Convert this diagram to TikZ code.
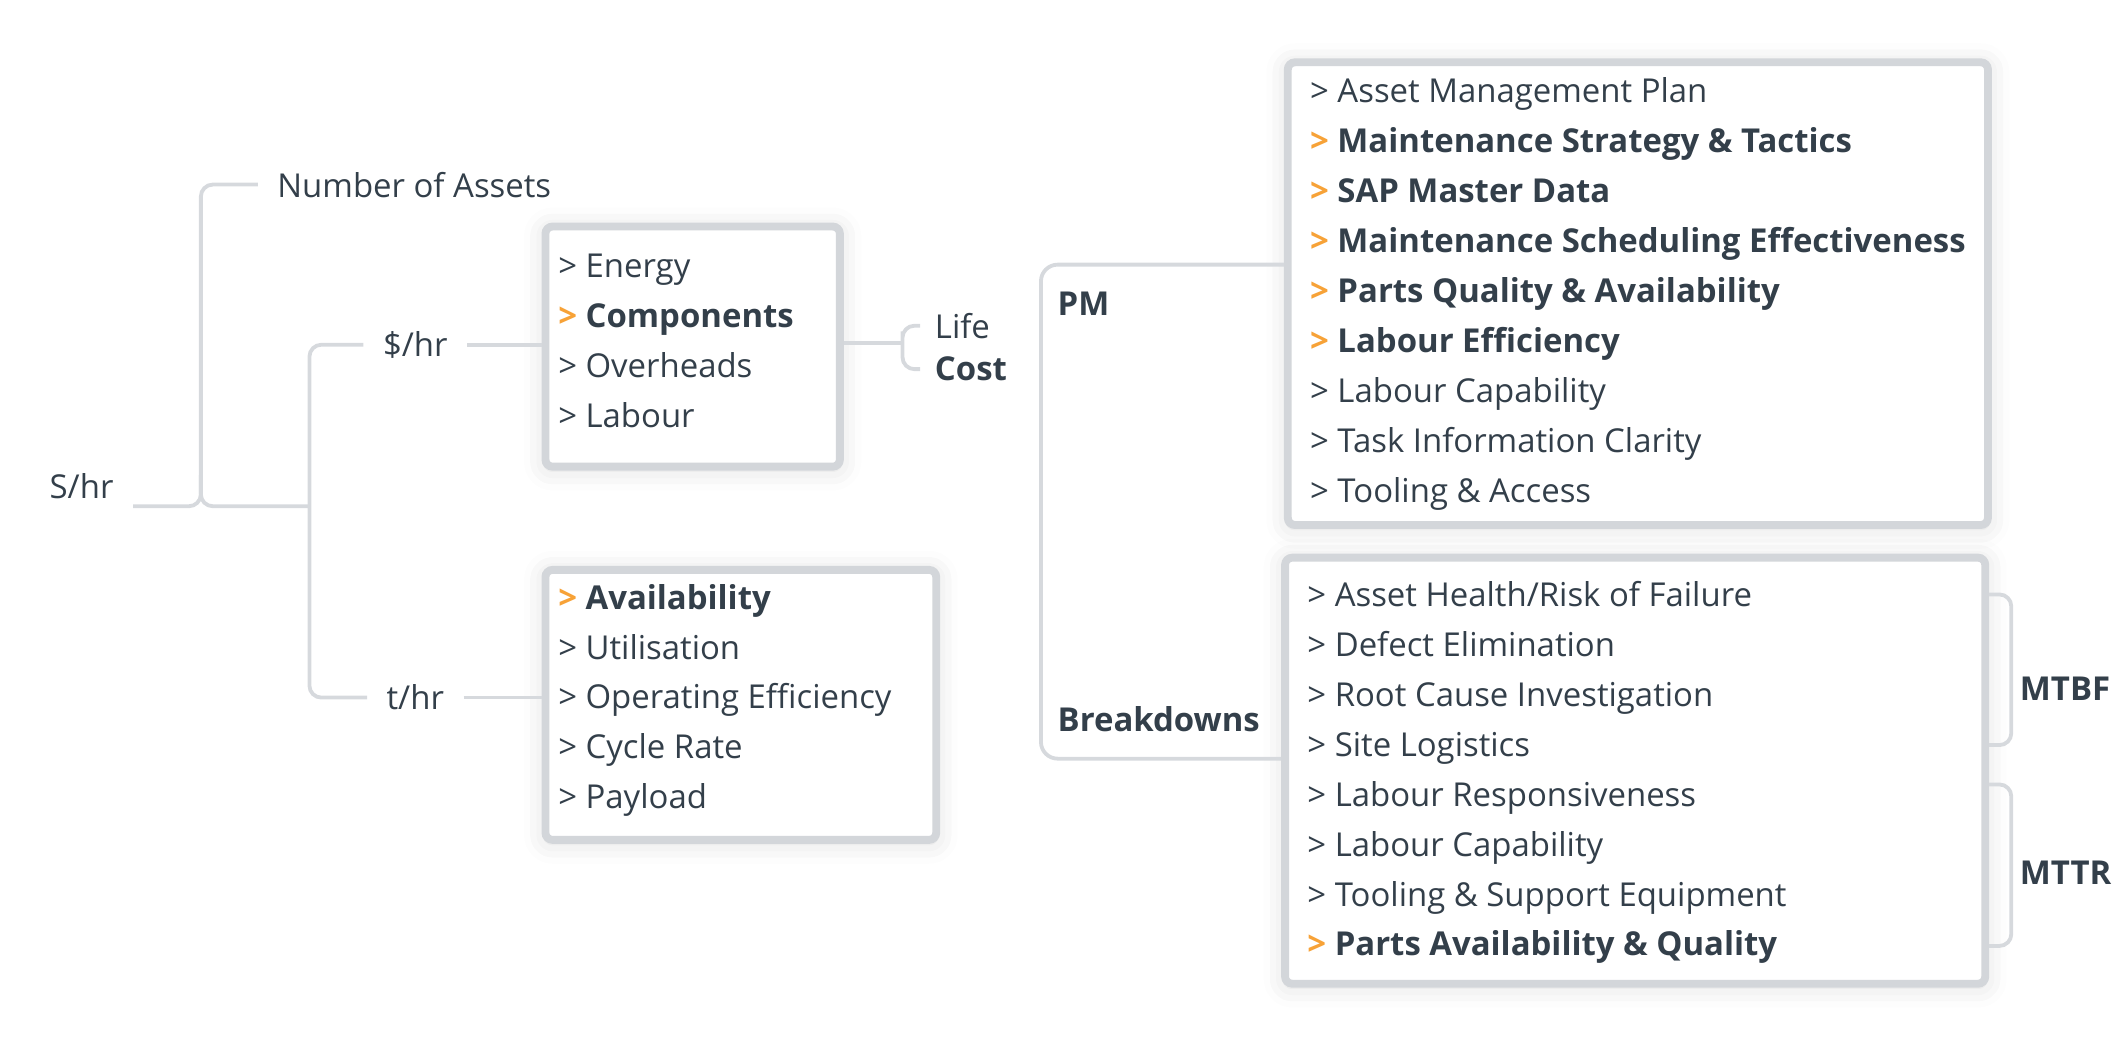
\documentclass[tikz,border=0pt]{standalone}
\usepackage{fontspec}
\setmainfont{Open Sans}
\usetikzlibrary{shadows.blur}

\definecolor{ink}{HTML}{333F4A}
\definecolor{accent}{HTML}{F7A237}
\definecolor{wire}{HTML}{D6D9DD}
\definecolor{frame}{HTML}{D3D6DA}

\newcommand{\keyitem}[1]{\textbf{\textcolor{accent}{>}\ #1}}

\tikzset{
  conn/.style={draw=wire, line width=1.6pt, rounded corners=5pt},
  listbox/.style={draw=frame, line width=3.3pt, rounded corners=3pt, fill=white,
    anchor=north west, inner sep=0pt,
    blur shadow={shadow xshift=0pt, shadow yshift=-1pt, shadow blur radius=9pt, shadow opacity=14}},
  item/.style={anchor=west, inner sep=0pt, text height=12pt, text depth=2pt,
    text=ink, font=\fontsize{13.8}{16}\selectfont},
  lbl/.style={inner xsep=8pt, inner ysep=3pt, text=ink, font=\fontsize{13.8}{16}\selectfont},
}

\begin{document}
\begin{tikzpicture}[x=0.02cm, y=-0.02cm]
    \useasboundingbox (0,0) rectangle (1568,768);

    % Define the row spacing
    \pgfmathsetmacro{\rowgap}{36.8}

    % Draw the boxes
    \node[listbox, minimum width=4.34cm, minimum height=3.54cm] (costbox) at (399,164) {};
    \node[listbox, minimum width=5.76cm, minimum height=3.98cm] (ratebox) at (399,417) {};
    \node[listbox, minimum width=10.32cm, minimum height=6.82cm] (pmbox) at (946,43) {};
    \node[listbox, minimum width=10.32cm, minimum height=6.28cm] (bdbox) at (944,408) {};

    % Add the left labels
    \node[lbl, anchor=south east] (shr) at (98,373) {S/hr};
    \node[lbl, anchor=west] (assets) at (190,136) {Number of Assets};
    \node[lbl] (dollar) at (306,254) {\$/hr};
    \node[lbl] (thr) at (306,514) {t/hr};
    \coordinate (b1) at (148,373);
    \coordinate (b1top) at (148,350);
    \coordinate (b2) at (228,373);

    % Draw the left tree
    \draw[conn] (shr.south east) -- (b1) |- (assets.west);
    \draw[conn] (b2) -| (b1top);
    \draw[conn] (dollar.west) -| (b2) |- (thr.west);
    \draw[conn] (dollar.east) -- (costbox.west |- dollar);
    \draw[conn] (thr.east) -- (ratebox.west |- thr);

    % Add the cost items
    \node[item] (energy) at (411,196) {> Energy};
    \node[item] (components) at (411,196+\rowgap) {\keyitem{Components}};
    \node[item] (overheads) at (411,196+2*\rowgap) {> Overheads};
    \node[item] (labour) at (411,196+3*\rowgap) {> Labour};

    % Add the rate items
    \node[item] (availability) at (411,440) {\keyitem{Availability}};
    \node[item] (utilisation) at (411,440+\rowgap) {> Utilisation};
    \node[item] (opeff) at (411,440+2*\rowgap) {> Operating Efficiency};
    \node[item] (cycle) at (411,440+3*\rowgap) {> Cycle Rate};
    \node[item] (payload) at (411,440+4*\rowgap) {> Payload};

    % Life cost brace
    \node[lbl, anchor=west, inner xsep=6pt] (life) at (678,240) {Life};
    \node[lbl, anchor=west, inner xsep=6pt] (cost) at (678,272) {\textbf{Cost}};
    \coordinate (lcjoin) at (665,253);
    \draw[conn] (life.west) -| (lcjoin) |- (cost.west);
    \draw[conn] (costbox.east |- lcjoin) -- (lcjoin);

    % PM / Breakdowns bracket
    \coordinate (pmtop) at (767,195);
    \coordinate (bdbot) at (767,559);
    \draw[conn, rounded corners=7pt] (pmbox.west |- pmtop) -- (pmtop) -- (bdbot) -- (bdbox.west |- bdbot);
    \node[item] (pm) at (779,224) {\textbf{PM}};
    \node[item] (breakdowns) at (779,530) {\textbf{Breakdowns}};

    % Add the PM items
    \node[item] (p0) at (965,67) {> Asset Management Plan};
    \node[item] (p1) at (965,67+\rowgap) {\keyitem{Maintenance Strategy \& Tactics}};
    \node[item] (p2) at (965,67+2*\rowgap) {\keyitem{SAP Master Data}};
    \node[item] (p3) at (965,67+3*\rowgap) {\keyitem{Maintenance Scheduling Effectiveness}};
    \node[item] (p4) at (965,67+4*\rowgap) {\keyitem{Parts Quality \& Availability}};
    \node[item] (p5) at (965,67+5*\rowgap) {\keyitem{Labour Efficiency}};
    \node[item] (p6) at (965,67+6*\rowgap) {> Labour Capability};
    \node[item] (p7) at (965,67+7*\rowgap) {> Task Information Clarity};
    \node[item] (p8) at (965,67+8*\rowgap) {> Tooling \& Access};

    % Add the breakdown items
    \node[item] (d0) at (963,438) {> Asset Health/Risk of Failure};
    \node[item] (d1) at (963,438+\rowgap) {> Defect Elimination};
    \node[item] (d2) at (963,438+2*\rowgap) {> Root Cause Investigation};
    \node[item] (d3) at (963,438+3*\rowgap) {> Site Logistics};
    \node[item] (d4) at (963,438+4*\rowgap) {> Labour Responsiveness};
    \node[item] (d5) at (963,438+5*\rowgap) {> Labour Capability};
    \node[item] (d6) at (963,438+6*\rowgap) {> Tooling \& Support Equipment};
    \node[item] (d7) at (963,438+7*\rowgap) {\keyitem{Parts Availability \& Quality}};

    % MTBF / MTTR brackets
    \coordinate (mtbftop) at (1482,438);
    \coordinate (mtbfbot) at (1482,549);
    \coordinate (mttrtop) at (1482,578);
    \coordinate (mttrbot) at (1482,697);
    \draw[conn] (bdbox.east |- mtbftop) -- (mtbftop) -- (mtbfbot) -- (bdbox.east |- mtbfbot);
    \draw[conn] (bdbox.east |- mttrtop) -- (mttrtop) -- (mttrbot) -- (bdbox.east |- mttrbot);
    \node[item] (mtbf) at (1488,507) {\textbf{MTBF}};
    \node[item] (mttr) at (1488,643) {\textbf{MTTR}};
\end{tikzpicture}
\end{document}
